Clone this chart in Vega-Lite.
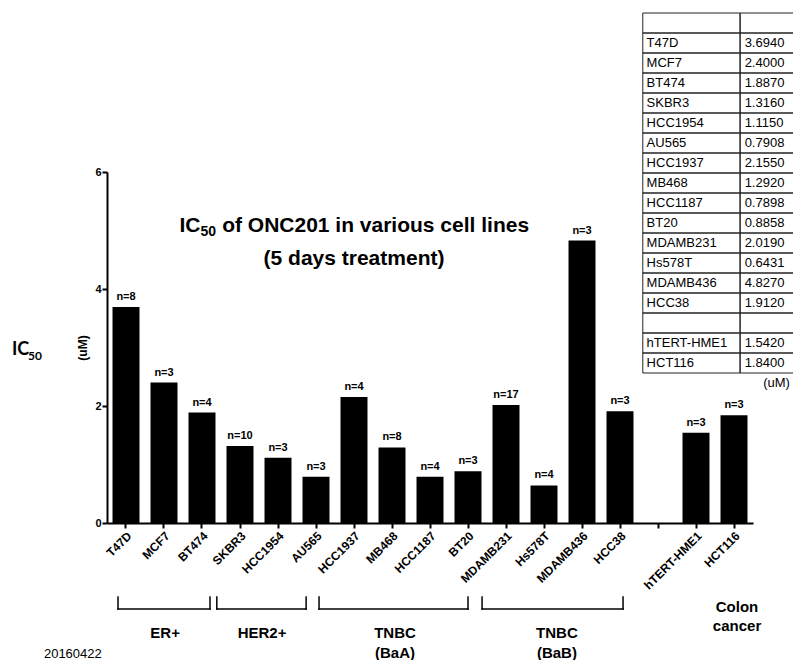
{
  "$schema": "https://vega.github.io/schema/vega-lite/v6.json",
  "width": 646,
  "height": 351,
  "autosize": {"type": "none"},
  "padding": {"left": 107, "top": 172, "right": 40, "bottom": 137},
  "background": "white",
  "config": {"view": {"stroke": null}, "font": "Liberation Sans", "text": {"color": "black"}},
  "datasets": {
    "cells": [
      {"cell": "T47D", "ic50": 3.694, "n": "n=8"},
      {"cell": "MCF7", "ic50": 2.4, "n": "n=3"},
      {"cell": "BT474", "ic50": 1.887, "n": "n=4"},
      {"cell": "SKBR3", "ic50": 1.316, "n": "n=10"},
      {"cell": "HCC1954", "ic50": 1.115, "n": "n=3"},
      {"cell": "AU565", "ic50": 0.7908, "n": "n=3"},
      {"cell": "HCC1937", "ic50": 2.155, "n": "n=4"},
      {"cell": "MB468", "ic50": 1.292, "n": "n=8"},
      {"cell": "HCC1187", "ic50": 0.7898, "n": "n=4"},
      {"cell": "BT20", "ic50": 0.8858, "n": "n=3"},
      {"cell": "MDAMB231", "ic50": 2.019, "n": "n=17"},
      {"cell": "Hs578T", "ic50": 0.6431, "n": "n=4"},
      {"cell": "MDAMB436", "ic50": 4.827, "n": "n=3"},
      {"cell": "HCC38", "ic50": 1.912, "n": "n=3"},
      {"cell": "hTERT-HME1", "ic50": 1.542, "n": "n=3"},
      {"cell": "HCT116", "ic50": 1.84, "n": "n=3"}
    ],
    "groups": [
      {"name": "ER+", "sub": "", "from": 0.29, "to": 2.71, "center": 1.53},
      {"name": "HER2+", "sub": "", "from": 2.89, "to": 5.24, "center": 4.08},
      {"name": "TNBC", "sub": "(BaA)", "from": 5.58, "to": 9.5, "center": 7.58},
      {"name": "TNBC", "sub": "(BaB)", "from": 9.87, "to": 13.58, "center": 11.84}
    ],
    "tableExtra": [{"cell": "header"}, {"cell": " "}]
  },
  "layer": [
    {
      "data": {"name": "cells"},
      "encoding": {
        "x": {
          "field": "cell", "type": "nominal", "sort": null,
          "scale": {"type": "band", "domain": ["T47D","MCF7","BT474","SKBR3","HCC1954","AU565","HCC1937","MB468","HCC1187","BT20","MDAMB231","Hs578T","MDAMB436","HCC38"," ","hTERT-HME1","HCT116"], "paddingInner": 0.29, "paddingOuter": 0.145},
          "axis": {"title": null, "labelAngle": -45, "labelAlign": "right", "labelBaseline": "top", "labelFont": "Liberation Sans", "labelFontWeight": "bold", "labelFontSize": 12, "labelColor": "black", "labelPadding": 2, "labelOverlap": false, "tickSize": 5, "tickWidth": 2, "tickColor": "black", "domainColor": "black", "domainWidth": 2, "grid": false}
        },
        "y": {
          "field": "ic50", "type": "quantitative",
          "scale": {"domain": [0, 6], "nice": false, "zero": false},
          "axis": {"title": "(uM)", "titleFont": "Liberation Sans", "titleFontWeight": "bold", "titleFontSize": 12, "titleColor": "black", "titlePadding": 5, "values": [0, 2, 4, 6], "labelFont": "Liberation Sans", "labelFontWeight": "bold", "labelFontSize": 11, "labelColor": "black", "labelPadding": 1, "tickSize": 5, "tickWidth": 2, "tickColor": "black", "domainColor": "black", "domainWidth": 2, "grid": false}
        }
      },
      "layer": [
        {"mark": {"type": "bar", "color": "black"}},
        {"mark": {"type": "text", "fontWeight": "bold", "fontSize": 11, "baseline": "bottom", "dy": -5}, "encoding": {"text": {"field": "n"}}}
      ]
    },
    {
      "layer": [
        {"data": {"name": "groups"}, "mark": {"type": "rule", "color": "black", "strokeWidth": 1.5, "strokeCap": "square"},
         "encoding": {"x": {"field": "from", "type": "quantitative", "scale": {"domain": [0, 17], "nice": false, "zero": false}, "axis": null}, "x2": {"field": "to"}, "y": {"datum": -1.47, "type": "quantitative", "scale": {"domain": [0, 6], "nice": false, "zero": false}, "axis": null}}},
        {"data": {"name": "groups"}, "mark": {"type": "rule", "color": "black", "strokeWidth": 1.5, "strokeCap": "square"},
         "encoding": {"x": {"field": "from", "type": "quantitative", "scale": {"domain": [0, 17], "nice": false, "zero": false}, "axis": null}, "y": {"datum": -1.265, "type": "quantitative", "scale": {"domain": [0, 6], "nice": false, "zero": false}, "axis": null}, "y2": {"datum": -1.47}}},
        {"data": {"name": "groups"}, "mark": {"type": "rule", "color": "black", "strokeWidth": 1.5, "strokeCap": "square"},
         "encoding": {"x": {"field": "to", "type": "quantitative", "scale": {"domain": [0, 17], "nice": false, "zero": false}, "axis": null}, "y": {"datum": -1.265, "type": "quantitative", "scale": {"domain": [0, 6], "nice": false, "zero": false}, "axis": null}, "y2": {"datum": -1.47}}},
        {"data": {"name": "groups"}, "mark": {"type": "text", "fontWeight": "bold", "fontSize": 15, "align": "center", "baseline": "middle"},
         "encoding": {"x": {"field": "center", "type": "quantitative", "scale": {"domain": [0, 17], "nice": false, "zero": false}, "axis": null}, "y": {"datum": -1.88, "type": "quantitative", "scale": {"domain": [0, 6], "nice": false, "zero": false}, "axis": null}, "text": {"field": "name"}}},
        {"data": {"name": "groups"}, "mark": {"type": "text", "fontWeight": "bold", "fontSize": 15, "align": "center", "baseline": "middle"},
         "encoding": {"x": {"field": "center", "type": "quantitative", "scale": {"domain": [0, 17], "nice": false, "zero": false}, "axis": null}, "y": {"datum": -2.22, "type": "quantitative", "scale": {"domain": [0, 6], "nice": false, "zero": false}, "axis": null}, "text": {"field": "sub"}}},
        {"data": {"values": [{}]}, "mark": {"type": "text", "text": "Colon", "fontWeight": "bold", "fontSize": 15, "align": "center", "baseline": "middle"},
         "encoding": {"x": {"datum": 16.58, "type": "quantitative", "scale": {"domain": [0, 17], "nice": false, "zero": false}, "axis": null}, "y": {"datum": -1.44, "type": "quantitative", "scale": {"domain": [0, 6], "nice": false, "zero": false}, "axis": null}}},
        {"data": {"values": [{}]}, "mark": {"type": "text", "text": "cancer", "fontWeight": "bold", "fontSize": 15, "align": "center", "baseline": "middle"},
         "encoding": {"x": {"datum": 16.58, "type": "quantitative", "scale": {"domain": [0, 17], "nice": false, "zero": false}, "axis": null}, "y": {"datum": -1.76, "type": "quantitative", "scale": {"domain": [0, 6], "nice": false, "zero": false}, "axis": null}}},
        {"data": {"values": [{}]}, "mark": {"type": "text", "text": "IC", "fontWeight": "bold", "fontSize": 21, "align": "left", "baseline": "middle"},
         "encoding": {"x": {"datum": 1.908, "type": "quantitative", "scale": {"domain": [0, 17], "nice": false, "zero": false}, "axis": null}, "y": {"datum": 5.077, "type": "quantitative", "scale": {"domain": [0, 6], "nice": false, "zero": false}, "axis": null}}},
        {"data": {"values": [{}]}, "mark": {"type": "text", "text": "50", "fontWeight": "bold", "fontSize": 14, "align": "left", "baseline": "middle"},
         "encoding": {"x": {"datum": 2.46, "type": "quantitative", "scale": {"domain": [0, 17], "nice": false, "zero": false}, "axis": null}, "y": {"datum": 4.966, "type": "quantitative", "scale": {"domain": [0, 6], "nice": false, "zero": false}, "axis": null}}},
        {"data": {"values": [{}]}, "mark": {"type": "text", "text": "of ONC201 in various cell lines", "fontWeight": "bold", "fontSize": 21, "align": "left", "baseline": "middle"},
         "encoding": {"x": {"datum": 3.03, "type": "quantitative", "scale": {"domain": [0, 17], "nice": false, "zero": false}, "axis": null}, "y": {"datum": 5.077, "type": "quantitative", "scale": {"domain": [0, 6], "nice": false, "zero": false}, "axis": null}}},
        {"data": {"values": [{}]}, "mark": {"type": "text", "text": "(5 days treatment)", "fontWeight": "bold", "fontSize": 21, "align": "center", "baseline": "middle"},
         "encoding": {"x": {"datum": 6.5, "type": "quantitative", "scale": {"domain": [0, 17], "nice": false, "zero": false}, "axis": null}, "y": {"datum": 4.513, "type": "quantitative", "scale": {"domain": [0, 6], "nice": false, "zero": false}, "axis": null}}},
        {"data": {"values": [{}]}, "mark": {"type": "text", "text": "IC", "font": "Lato", "fontWeight": "bold", "fontSize": 18, "align": "left", "baseline": "middle"},
         "encoding": {"x": {"datum": -2.5, "type": "quantitative", "scale": {"domain": [0, 17], "nice": false, "zero": false}, "axis": null}, "y": {"datum": 2.957, "type": "quantitative", "scale": {"domain": [0, 6], "nice": false, "zero": false}, "axis": null}}},
        {"data": {"values": [{}]}, "mark": {"type": "text", "text": "50", "font": "Lato", "fontWeight": "bold", "fontSize": 12, "align": "left", "baseline": "middle"},
         "encoding": {"x": {"datum": -2.08, "type": "quantitative", "scale": {"domain": [0, 17], "nice": false, "zero": false}, "axis": null}, "y": {"datum": 2.86, "type": "quantitative", "scale": {"domain": [0, 6], "nice": false, "zero": false}, "axis": null}}},
        {"data": {"values": [{}]}, "mark": {"type": "text", "text": "20160422", "fontSize": 13, "align": "left", "baseline": "middle"},
         "encoding": {"x": {"datum": -1.66, "type": "quantitative", "scale": {"domain": [0, 17], "nice": false, "zero": false}, "axis": null}, "y": {"datum": -2.24, "type": "quantitative", "scale": {"domain": [0, 6], "nice": false, "zero": false}, "axis": null}}},
        {"data": {"values": [{}]}, "mark": {"type": "text", "text": "(uM)", "fontSize": 13, "align": "right", "baseline": "middle"},
         "encoding": {"x": {"datum": 17.97, "type": "quantitative", "scale": {"domain": [0, 17], "nice": false, "zero": false}, "axis": null}, "y": {"datum": 2.393, "type": "quantitative", "scale": {"domain": [0, 6], "nice": false, "zero": false}, "axis": null}}}
      ]
    },
    {
      "layer": [
        {"data": {"name": "cells"}, "mark": {"type": "rect", "filled": false, "color": "#222222", "strokeWidth": 1},
         "encoding": {"x": {"datum": 14.1, "type": "quantitative", "scale": {"domain": [0, 17], "nice": false, "zero": false}, "axis": null}, "x2": {"datum": 16.66},
           "y": {"field": "cell", "type": "nominal", "scale": {"type": "band", "domain": ["header","T47D","MCF7","BT474","SKBR3","HCC1954","AU565","HCC1937","MB468","HCC1187","BT20","MDAMB231","Hs578T","MDAMB436","HCC38"," ","hTERT-HME1","HCT116"], "range": [-159, 201], "paddingInner": 0, "paddingOuter": 0}, "axis": null}}},
        {"data": {"name": "cells"}, "mark": {"type": "rect", "filled": false, "color": "#222222", "strokeWidth": 1},
         "encoding": {"x": {"datum": 16.66, "type": "quantitative", "scale": {"domain": [0, 17], "nice": false, "zero": false}, "axis": null}, "x2": {"datum": 18.4},
           "y": {"field": "cell", "type": "nominal", "scale": {"type": "band", "domain": ["header","T47D","MCF7","BT474","SKBR3","HCC1954","AU565","HCC1937","MB468","HCC1187","BT20","MDAMB231","Hs578T","MDAMB436","HCC38"," ","hTERT-HME1","HCT116"], "range": [-159, 201], "paddingInner": 0, "paddingOuter": 0}, "axis": null}}},
        {"data": {"name": "tableExtra"}, "mark": {"type": "rect", "filled": false, "color": "#222222", "strokeWidth": 1},
         "encoding": {"x": {"datum": 14.1, "type": "quantitative", "scale": {"domain": [0, 17], "nice": false, "zero": false}, "axis": null}, "x2": {"datum": 16.66},
           "y": {"field": "cell", "type": "nominal", "scale": {"type": "band", "domain": ["header","T47D","MCF7","BT474","SKBR3","HCC1954","AU565","HCC1937","MB468","HCC1187","BT20","MDAMB231","Hs578T","MDAMB436","HCC38"," ","hTERT-HME1","HCT116"], "range": [-159, 201], "paddingInner": 0, "paddingOuter": 0}, "axis": null}}},
        {"data": {"name": "tableExtra"}, "mark": {"type": "rect", "filled": false, "color": "#222222", "strokeWidth": 1},
         "encoding": {"x": {"datum": 16.66, "type": "quantitative", "scale": {"domain": [0, 17], "nice": false, "zero": false}, "axis": null}, "x2": {"datum": 18.4},
           "y": {"field": "cell", "type": "nominal", "scale": {"type": "band", "domain": ["header","T47D","MCF7","BT474","SKBR3","HCC1954","AU565","HCC1937","MB468","HCC1187","BT20","MDAMB231","Hs578T","MDAMB436","HCC38"," ","hTERT-HME1","HCT116"], "range": [-159, 201], "paddingInner": 0, "paddingOuter": 0}, "axis": null}}},
        {"data": {"name": "cells"}, "mark": {"type": "text", "fontSize": 13, "align": "left", "baseline": "middle"},
         "encoding": {"x": {"datum": 14.2, "type": "quantitative", "scale": {"domain": [0, 17], "nice": false, "zero": false}, "axis": null},
           "y": {"field": "cell", "type": "nominal", "bandPosition": 0.5, "scale": {"type": "band", "domain": ["header","T47D","MCF7","BT474","SKBR3","HCC1954","AU565","HCC1937","MB468","HCC1187","BT20","MDAMB231","Hs578T","MDAMB436","HCC38"," ","hTERT-HME1","HCT116"], "range": [-159, 201], "paddingInner": 0, "paddingOuter": 0}, "axis": null},
           "text": {"field": "cell"}}},
        {"data": {"name": "cells"}, "mark": {"type": "text", "fontSize": 13, "align": "left", "baseline": "middle"},
         "encoding": {"x": {"datum": 16.78, "type": "quantitative", "scale": {"domain": [0, 17], "nice": false, "zero": false}, "axis": null},
           "y": {"field": "cell", "type": "nominal", "bandPosition": 0.5, "scale": {"type": "band", "domain": ["header","T47D","MCF7","BT474","SKBR3","HCC1954","AU565","HCC1937","MB468","HCC1187","BT20","MDAMB231","Hs578T","MDAMB436","HCC38"," ","hTERT-HME1","HCT116"], "range": [-159, 201], "paddingInner": 0, "paddingOuter": 0}, "axis": null},
           "text": {"field": "ic50", "format": ".4f"}}}
      ]
    }
  ],
  "resolve": {"scale": {"x": "independent", "y": "independent"}}
}
